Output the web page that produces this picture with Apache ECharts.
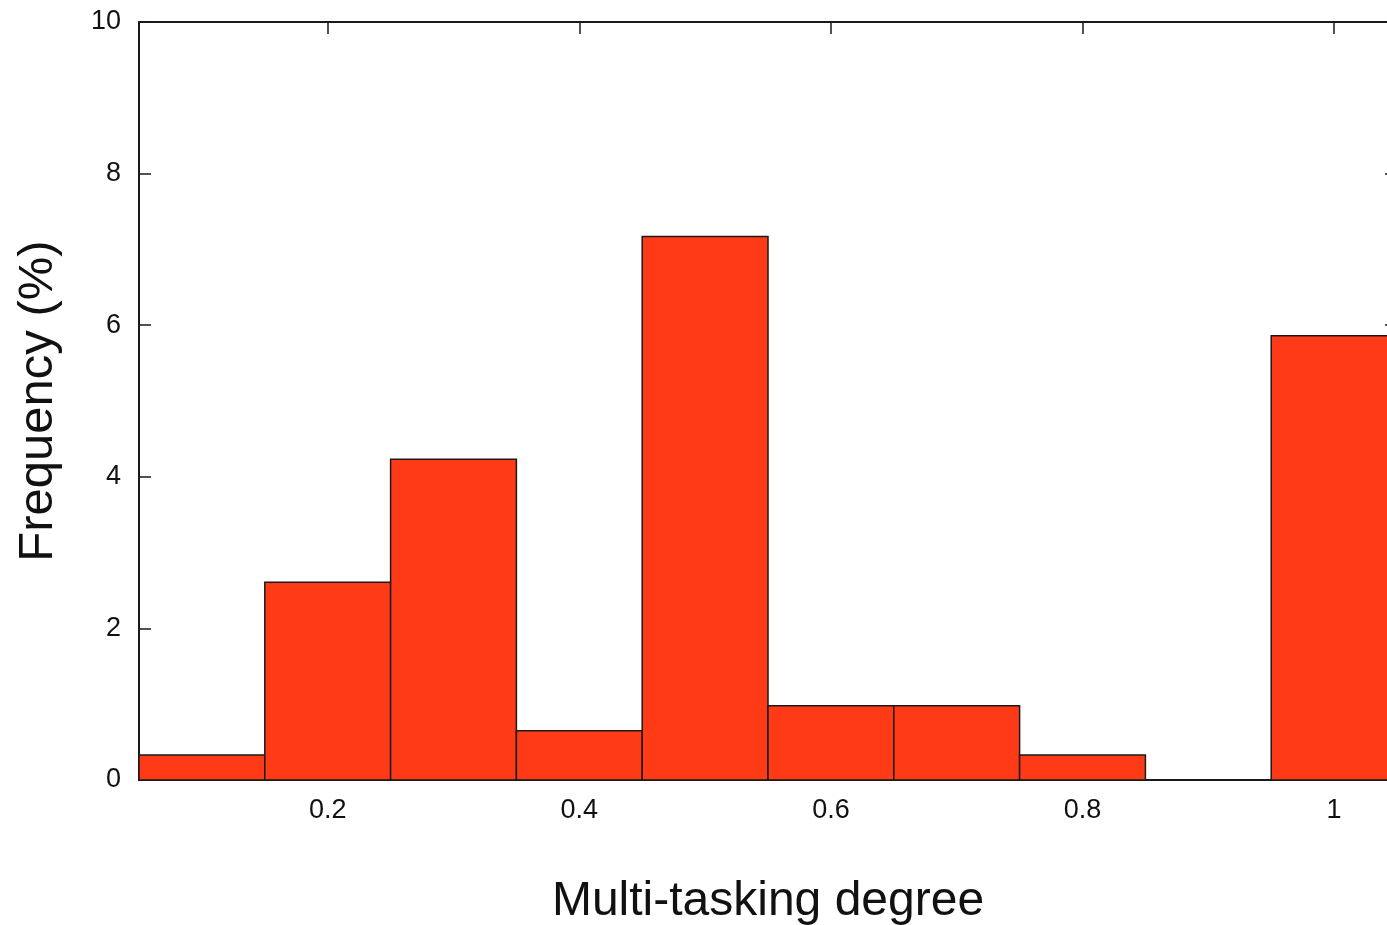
<!DOCTYPE html>
<html>
<head>
<meta charset="utf-8">
<script src="https://cdn.jsdelivr.net/npm/echarts@6/dist/echarts.min.js"></script>
<style>
  html, body { margin: 0; padding: 0; background: #fff; }
  #chart { width: 1387px; height: 925px; }
</style>
</head>
<body>
<div id="chart"></div>
<script>
  // histogram bins (centre of each bin) and frequency in %
  const binCenters = [0.1, 0.2, 0.3, 0.4, 0.5, 0.6, 0.7, 0.8, 0.9, 1.0];
  const frequency = [0.33, 2.61, 4.23, 0.65, 7.17, 0.98, 0.98, 0.33, 0, 5.86];
  const binWidth = 0.1;
  const xTicks = [0.2, 0.4, 0.6, 0.8, 1];

  const font = 'Liberation Sans, Arial, Helvetica, sans-serif';
  const axisColor = '#1a1a1a';

  const chart = echarts.init(document.getElementById('chart'));

  const data = binCenters.map((x, i) => [x, frequency[i]]);

  const xBase = {
    type: 'value',
    min: 0.05,
    max: 1.05,
    splitLine: { show: false },
    axisLine: { show: true, onZero: false, lineStyle: { color: axisColor, width: 2 } },
    axisTick: { show: true, inside: true, length: 12, customValues: xTicks, lineStyle: { color: axisColor, width: 1.5 } }
  };

  const yBase = {
    type: 'value',
    min: 0,
    max: 10,
    interval: 2,
    splitLine: { show: false },
    axisLine: { show: true, lineStyle: { color: axisColor, width: 2 } },
    axisTick: { show: true, inside: true, length: 12, lineStyle: { color: axisColor, width: 1.5 } }
  };

  chart.setOption({
    backgroundColor: '#fff',
    animation: false,
    // plot area runs past the right edge of the canvas, like the original
    grid: { left: 139, top: 22, width: 1258, height: 758, outerBoundsMode: 'none', containLabel: false },
    xAxis: [
      Object.assign({}, xBase, {
        position: 'bottom',
        name: 'Multi-tasking degree',
        nameLocation: 'middle',
        nameGap: 98,
        nameTextStyle: { fontFamily: font, fontSize: 48, color: '#111' },
        axisLabel: {
          customValues: xTicks,
          margin: 17,
          fontFamily: font,
          fontSize: 27,
          color: '#111',
          formatter: v => String(+v.toFixed(1))
        }
      }),
      Object.assign({}, xBase, {
        position: 'top',
        axisLabel: { show: false }
      })
    ],
    yAxis: [
      Object.assign({}, yBase, {
        position: 'left',
        name: 'Frequency (%)',
        nameLocation: 'middle',
        nameGap: 76,
        nameTextStyle: { fontFamily: font, fontSize: 49, color: '#111' },
        axisLabel: { margin: 18, fontFamily: font, fontSize: 27, color: '#111' }
      }),
      Object.assign({}, yBase, {
        position: 'right',
        axisLabel: { show: false }
      })
    ],
    series: [
      {
        type: 'custom',
        xAxisIndex: 0,
        yAxisIndex: 0,
        encode: { x: 0, y: 1 },
        data: data,
        renderItem: function (params, api) {
          const x = api.value(0);
          const y = api.value(1);
          const p0 = api.coord([x - binWidth / 2, y]);
          const p1 = api.coord([x + binWidth / 2, 0]);
          return {
            type: 'rect',
            shape: { x: p0[0], y: p0[1], width: p1[0] - p0[0], height: p1[1] - p0[1] },
            style: { fill: '#ff3a17', stroke: '#1a1a1a', lineWidth: 1.5 }
          };
        }
      }
    ]
  });
</script>
</body>
</html>
